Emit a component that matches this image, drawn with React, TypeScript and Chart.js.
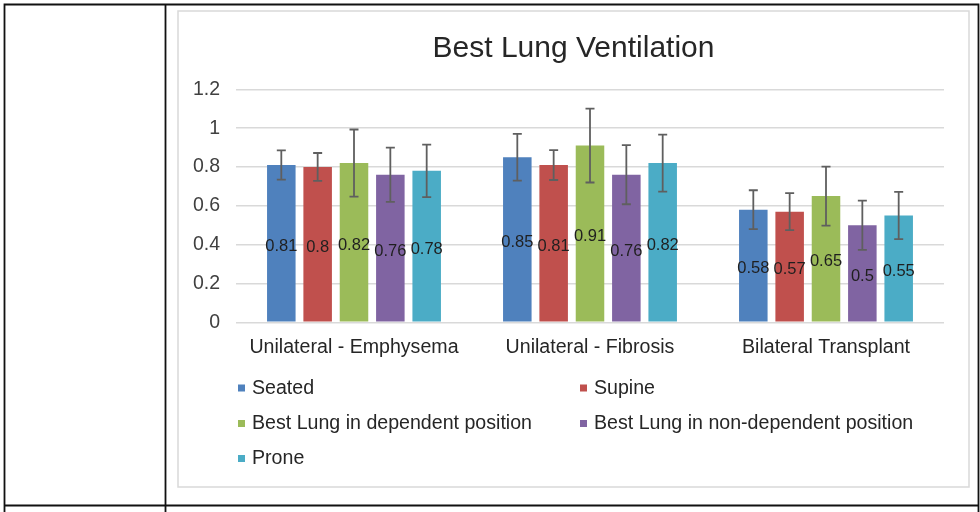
import React, { useEffect, useRef } from 'react';
import { Chart, registerables } from 'chart.js';

Chart.register(...registerables);

const categories = ['Unilateral - Emphysema', 'Unilateral - Fibrosis', 'Bilateral Transplant'];
const seriesNames = [
  'Seated',
  'Supine',
  'Best Lung in dependent position',
  'Best Lung in non-dependent position',
  'Prone',
];
const seated = [0.81, 0.85, 0.58];
const supine = [0.8, 0.81, 0.57];
const dependent = [0.82, 0.91, 0.65];
const nonDependent = [0.76, 0.76, 0.5];
const prone = [0.78, 0.82, 0.55];

const seatedErr = [0.075, 0.12, 0.1];
const supineErr = [0.072, 0.077, 0.095];
const dependentErr = [0.173, 0.19, 0.152];
const nonDependentErr = [0.14, 0.152, 0.127];
const proneErr = [0.135, 0.147, 0.122];

const chartTitle = 'Best Lung Ventilation';
const seriesColors = ['#4F81BD', '#C0504D', '#9BBB59', '#8064A2', '#4BACC6'];

const FONT = '"Liberation Sans", Arial, Helvetica, sans-serif';

const framePlugin = {
  id: 'frame',
  beforeDraw(chart: any) {
    const ctx = chart.ctx;
    ctx.save();
    ctx.fillStyle = '#ffffff';
    ctx.fillRect(0, 0, chart.width, chart.height);
    ctx.strokeStyle = '#111111';
    ctx.lineWidth = 1.8;
    ctx.beginPath();
    ctx.moveTo(4.5, 512);
    ctx.lineTo(4.5, 4.5);
    ctx.lineTo(978.5, 4.5);
    ctx.lineTo(978.5, 512);
    ctx.moveTo(165.5, 4.5);
    ctx.lineTo(165.5, 512);
    ctx.moveTo(4.5, 505.5);
    ctx.lineTo(978.5, 505.5);
    ctx.stroke();
    ctx.strokeStyle = '#d9d9d9';
    ctx.lineWidth = 1.5;
    ctx.strokeRect(178, 11, 791, 476);
    // title, centered on the chart box
    ctx.font = `30px ${FONT}`;
    ctx.fillStyle = '#262626';
    ctx.textAlign = 'center';
    ctx.textBaseline = 'alphabetic';
    ctx.fillText(chartTitle, 573.5, 57);
    ctx.restore();
  },
};

const barExtrasPlugin = {
  id: 'barExtras',
  afterDatasetsDraw(chart: any) {
    const ctx = chart.ctx;
    const yScale = chart.scales.y;
    ctx.save();
    chart.data.datasets.forEach((ds: any, i: number) => {
      const meta = chart.getDatasetMeta(i);
      meta.data.forEach((bar: any, j: number) => {
        const v = ds.data[j];
        const e = ds.errors[j];
        const yT = yScale.getPixelForValue(v + e);
        const yB = yScale.getPixelForValue(v - e);
        ctx.strokeStyle = '#5f5f5f';
        ctx.lineWidth = 1.8;
        ctx.beginPath();
        ctx.moveTo(bar.x, yT);
        ctx.lineTo(bar.x, yB);
        ctx.moveTo(bar.x - 4.5, yT);
        ctx.lineTo(bar.x + 4.5, yT);
        ctx.moveTo(bar.x - 4.5, yB);
        ctx.lineTo(bar.x + 4.5, yB);
        ctx.stroke();
      });
    });
    ctx.font = `16.5px ${FONT}`;
    ctx.fillStyle = '#1f1f1f';
    ctx.textAlign = 'center';
    ctx.textBaseline = 'middle';
    chart.data.datasets.forEach((ds: any, i: number) => {
      const meta = chart.getDatasetMeta(i);
      meta.data.forEach((bar: any, j: number) => {
        const yMid = (bar.y + bar.base) / 2;
        ctx.fillText(String(ds.data[j]), bar.x, yMid + 3);
      });
    });
    ctx.restore();
  },
};

const legendPlugin = {
  id: 'customLegend',
  afterDraw(chart: any) {
    const ctx = chart.ctx;
    const colX = [238, 580];
    const rowY = [388.5, 424, 459];
    ctx.save();
    ctx.font = `19.6px ${FONT}`;
    ctx.textAlign = 'left';
    ctx.textBaseline = 'middle';
    chart.data.datasets.forEach((ds: any, i: number) => {
      const x = colX[i % 2];
      const y = rowY[Math.floor(i / 2)];
      ctx.fillStyle = ds.backgroundColor;
      ctx.fillRect(x, y - 4, 7, 7);
      ctx.fillStyle = '#262626';
      ctx.fillText(ds.label, x + 14, y);
    });
    ctx.restore();
  },
};

export default function App() {
  const canvasRef = useRef<HTMLCanvasElement | null>(null);

  useEffect(() => {
    if (!canvasRef.current) return;
    const values = [seated, supine, dependent, nonDependent, prone];
    const errors = [seatedErr, supineErr, dependentErr, nonDependentErr, proneErr];
    const chart = new Chart(canvasRef.current, {
      type: 'bar',
      data: {
        labels: categories,
        datasets: seriesNames.map((name, i) => ({
          label: name,
          data: values[i],
          errors: errors[i],
          backgroundColor: seriesColors[i],
          borderWidth: 0,
          categoryPercentage: 0.77,
          barPercentage: 0.785,
        })) as any,
      },
      options: {
        responsive: false,
        animation: false,
        devicePixelRatio: 1,
        layout: { padding: { left: 0, right: 36, top: 89.3, bottom: 0 } },
        plugins: {
          legend: { display: false },
          tooltip: { enabled: false },
          title: { display: false },
        },
        scales: {
          x: {
            grid: { display: false, drawTicks: false },
            border: { display: false },
            ticks: {
              color: '#262626',
              font: { family: FONT, size: 19.6 },
              padding: 14,
              maxRotation: 0,
              autoSkip: false,
            },
            afterFit(scale: any) {
              scale.height = 189.7;
            },
          },
          y: {
            min: 0,
            max: 1.2,
            ticks: {
              stepSize: 0.2,
              color: '#404040',
              font: { family: FONT, size: 19.5 },
              padding: 16,
              callback: (v: any) => String(Math.round(Number(v) * 10) / 10),
            },
            grid: { color: '#d9d9d9', lineWidth: 1.5, drawTicks: false },
            border: { display: false },
            afterFit(scale: any) {
              scale.width = 236;
            },
          },
        },
      } as any,
      plugins: [framePlugin, barExtrasPlugin, legendPlugin],
    });
    return () => chart.destroy();
  }, []);

  return (
    <div style={{ position: 'fixed', left: 0, top: 0, width: 980, height: 512, background: '#fff' }}>
      <canvas ref={canvasRef} width={980} height={512} style={{ display: 'block', width: 980, height: 512 }} />
    </div>
  );
}
